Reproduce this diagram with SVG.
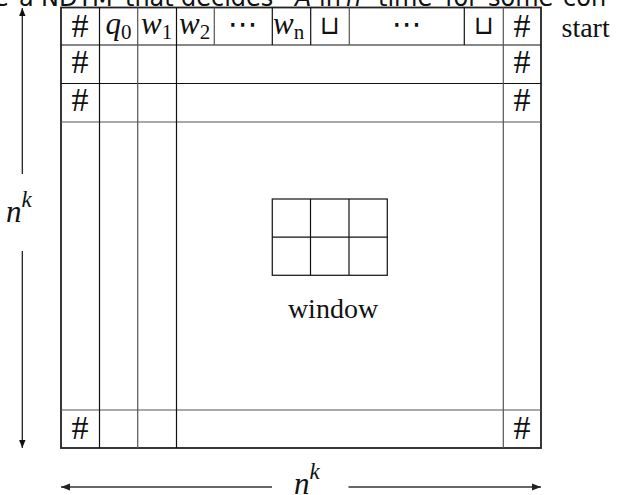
<svg xmlns="http://www.w3.org/2000/svg" width="618" height="495" viewBox="0 0 618 495">
<style>
.bg{fill:#fff}
.outer{fill:none;stroke:#222;stroke-width:1.8}
.ln{stroke:#111;stroke-width:1.2}
.lg{stroke:#555;stroke-width:1.2}
.serif{font-family:"Liberation Serif","Times New Roman",serif;fill:#111}
.mi{font-family:"Liberation Serif","Times New Roman",serif;font-style:italic;fill:#111;font-size:31px}
.sym{font-family:"DejaVu Sans",sans-serif;fill:#111;text-anchor:middle}
.hash{font-family:"Liberation Serif","Times New Roman",serif;fill:#111;font-size:34px;text-anchor:middle}
.sub{font-size:21px;font-style:normal}
.title{font-family:"DejaVu Sans","Liberation Sans",sans-serif;font-size:24px;fill:#111}
.arr{stroke:#111;stroke-width:1.2;fill:none}
.arrg{stroke:#666;stroke-width:1.8;fill:none}
</style>
<defs>
<marker id="ah" viewBox="0 0 10 10" refX="10" refY="5" markerWidth="8" markerHeight="8" markerUnits="userSpaceOnUse" orient="auto"><path d="M0,1 L10,5 L0,9 z" fill="#111"/></marker>
<marker id="ahg" viewBox="0 0 10 10" refX="10" refY="5" markerWidth="9" markerHeight="9" markerUnits="userSpaceOnUse" orient="auto"><path d="M0,1 L10,5 L0,9 z" fill="#222"/></marker>
</defs>
<rect class="bg" x="0" y="0" width="618" height="495"/>

<g id="title-fragment" class="title">
<text x="-6" y="6">e</text>
<text x="19" y="6">a</text>
<text x="41" y="6">NDTM</text>
<text x="125" y="6">that</text>
<text x="181" y="6">decides</text>
<text x="295" y="6" font-style="italic">A</text>
<text x="319" y="6">in</text>
<text x="346" y="6" font-style="italic">n<tspan dy="-10" font-size="17">k</tspan></text>
<text x="378" y="6">time</text>
<text x="445" y="6">for</text>
<text x="488" y="6">some</text>
<text x="563" y="6">con</text>
</g>

<g id="tableau">
<rect class="outer" x="61" y="7.5" width="480" height="440.5"/>
<line class="ln" x1="61" y1="45" x2="541" y2="45"/>
<line class="ln" x1="61" y1="83.5" x2="541" y2="83.5"/>
<line class="lg" x1="61" y1="122" x2="541" y2="122"/>
<line class="lg" x1="61" y1="410" x2="541" y2="410"/>
<line class="ln" x1="99.5" y1="7.5" x2="99.5" y2="448"/>
<line class="lg" x1="137.7" y1="7.5" x2="137.7" y2="448"/>
<line class="ln" x1="176.5" y1="7.5" x2="176.5" y2="448"/>
<line class="lg" x1="503.3" y1="7.5" x2="503.3" y2="448"/>
<line class="lg" x1="214.3" y1="7.5" x2="214.3" y2="45"/>
<line class="ln" x1="272.3" y1="7.5" x2="272.3" y2="45"/>
<line class="ln" x1="310.7" y1="7.5" x2="310.7" y2="45"/>
<line class="lg" x1="349.3" y1="7.5" x2="349.3" y2="45"/>
<line class="ln" x1="464.3" y1="7.5" x2="464.3" y2="45"/>
</g>

<g id="top-row-cells">
<text class="hash" x="80" y="36.5">#</text>
<text class="mi" x="105.5" y="34">q<tspan class="serif sub" dy="5">0</tspan></text>
<text class="mi" x="141" y="34">w<tspan class="serif sub" dy="5">1</tspan></text>
<text class="mi" x="179" y="34">w<tspan class="serif sub" dy="5">2</tspan></text>
<text class="sym" x="243" y="34" font-size="30">⋯</text>
<text class="mi" x="273" y="34">w<tspan class="sub" font-style="italic" dy="5">n</tspan></text>
<text class="sym" x="330" y="34" font-size="26">⊔</text>
<text class="sym" x="407" y="34" font-size="30">⋯</text>
<text class="sym" x="484" y="34" font-size="26">⊔</text>
<text class="hash" x="522" y="36.5">#</text>
</g>

<g id="border-marks" class="hash">
<text x="80" y="73">#</text>
<text x="522" y="73">#</text>
<text x="80" y="111">#</text>
<text x="522" y="111">#</text>
<text x="80" y="439">#</text>
<text x="522" y="439">#</text>
</g>

<g id="window">
<rect x="272.3" y="199" width="115" height="76.3" fill="none" stroke="#222" stroke-width="1.3"/>
<line class="ln" x1="310.5" y1="199" x2="310.5" y2="275.3"/>
<line class="ln" x1="349" y1="199" x2="349" y2="275.3"/>
<line class="ln" x1="272.3" y1="237.2" x2="387.3" y2="237.2"/>
<text class="serif" x="333" y="318" font-size="28" text-anchor="middle">window</text>
</g>

<g id="start-label">
<text class="serif" x="561.5" y="37" font-size="28">start</text>
</g>

<g id="connectors">
<line class="arr" x1="22.3" y1="174" x2="22.3" y2="8" marker-end="url(#ah)"/>
<line class="arr" x1="22.3" y1="251" x2="22.3" y2="448" marker-end="url(#ah)"/>
<line class="arrg" x1="272" y1="487" x2="61" y2="487" marker-end="url(#ahg)"/>
<line class="arrg" x1="348.5" y1="487" x2="541" y2="487" marker-end="url(#ahg)"/>
</g>

<g id="dimension-labels">
<text class="mi" x="6" y="222" font-size="35">n<tspan class="serif" font-style="italic" font-size="23" dy="-15">k</tspan></text>
<text class="mi" x="294" y="494" font-size="35">n<tspan class="serif" font-style="italic" font-size="23" dy="-15">k</tspan></text>
</g>
</svg>
